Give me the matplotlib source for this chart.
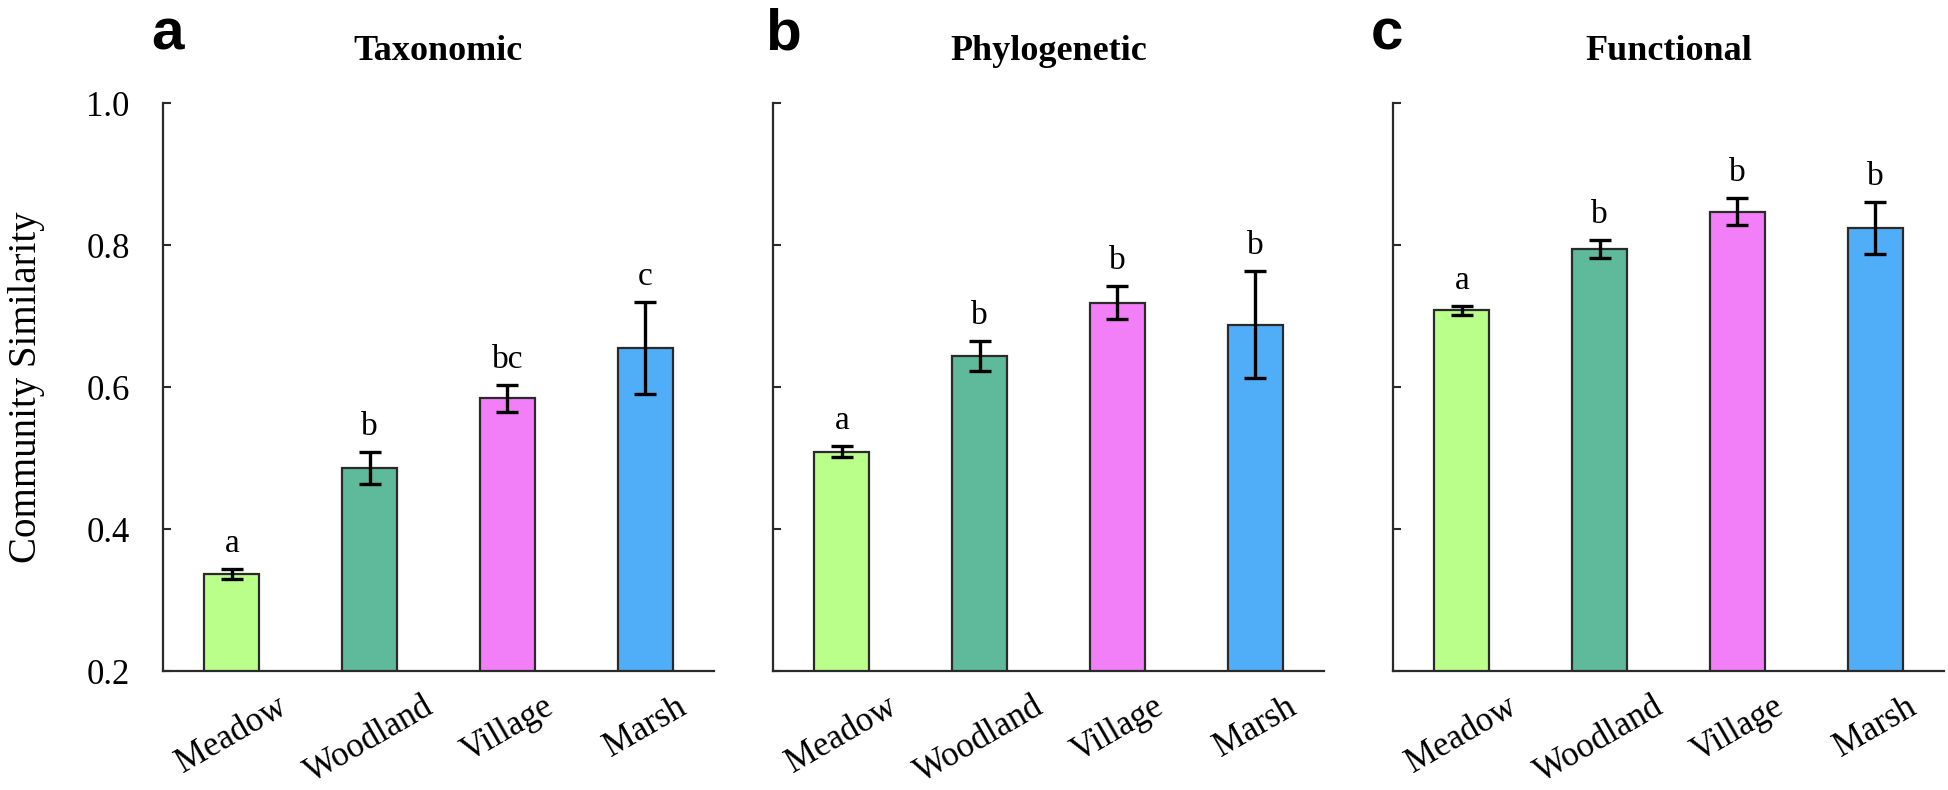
import matplotlib
matplotlib.use('Agg')
import matplotlib.pyplot as plt

plt.rcParams.update({'font.family': 'Liberation Serif', 'font.size': 25})

habitats = ['Meadow', 'Woodland', 'Village', 'Marsh']
colors = ['#BBFF8B', '#5FB99B', '#F27FF7', '#50AEF9']
panel_letters = ['a', 'b', 'c']
titles = ['Taxonomic', 'Phylogenetic', 'Functional']

tax_mean = [0.336, 0.486, 0.584, 0.655]
tax_err = [0.007, 0.023, 0.019, 0.065]
tax_sig = ['a', 'b', 'bc', 'c']

phy_mean = [0.509, 0.644, 0.719, 0.688]
phy_err = [0.008, 0.021, 0.023, 0.075]
phy_sig = ['a', 'b', 'b', 'b']

fun_mean = [0.708, 0.794, 0.847, 0.824]
fun_err = [0.006, 0.013, 0.019, 0.036]
fun_sig = ['a', 'b', 'b', 'b']

panels = [(tax_mean, tax_err, tax_sig),
          (phy_mean, phy_err, phy_sig),
          (fun_mean, fun_err, fun_sig)]

W, H = 1948, 790
fig = plt.figure(figsize=(W / 100, H / 100), dpi=100)

# axes placement in pixels
ax_left = [163, 773, 1393]
ax_w = 551
ax_top, ax_bot = 103, 671
letter_x = [151, 765, 1371]

x = list(range(len(habitats)))
for k, (mean, err, sig) in enumerate(panels):
    ax = fig.add_axes([ax_left[k] / W, 1 - ax_bot / H, ax_w / W, (ax_bot - ax_top) / H])
    ax.bar(x, mean, width=0.4, color=colors, edgecolor='#2a2a2a', linewidth=1.6, zorder=2)
    ax.errorbar(x, mean, yerr=err, fmt='none', ecolor='black', elinewidth=2.4,
                capsize=8, capthick=2.4, zorder=3)
    for xi, m, e, s in zip(x, mean, err, sig):
        ax.text(xi, m + e + 0.024, s, ha='center', va='baseline', fontsize=24)
    ax.set_xlim(-0.5, 3.5)
    ax.set_ylim(0.2, 1.0)
    ax.set_yticks([0.2, 0.4, 0.6, 0.8, 1.0])
    ax.set_xticks(x)
    ax.set_xticklabels(habitats, rotation=30, ha='center')
    ax.tick_params(axis='x', direction='in', length=8, width=1.5, color='#2a2a2a', pad=14)
    ax.tick_params(axis='y', direction='in', length=6, width=1.5, color='#2a2a2a', pad=24)
    if k > 0:
        ax.set_yticklabels([])
    for sp in ['top', 'right']:
        ax.spines[sp].set_visible(False)
    for sp in ['left', 'bottom']:
        ax.spines[sp].set_linewidth(1.6)
        ax.spines[sp].set_color('#2a2a2a')
    ax.set_title(titles[k], fontweight='bold', fontsize=26, pad=31)
    fig.text(letter_x[k] / W, 1 - 49 / H, panel_letters[k], family='Liberation Sans',
             fontweight='bold', fontsize=42, ha='left', va='baseline')

fig.text(27 / W, 1 - 387 / H, 'Community Similarity', rotation=90,
         ha='center', va='center', fontsize=28)

plt.savefig('out.png', dpi=100)
plt.close()
